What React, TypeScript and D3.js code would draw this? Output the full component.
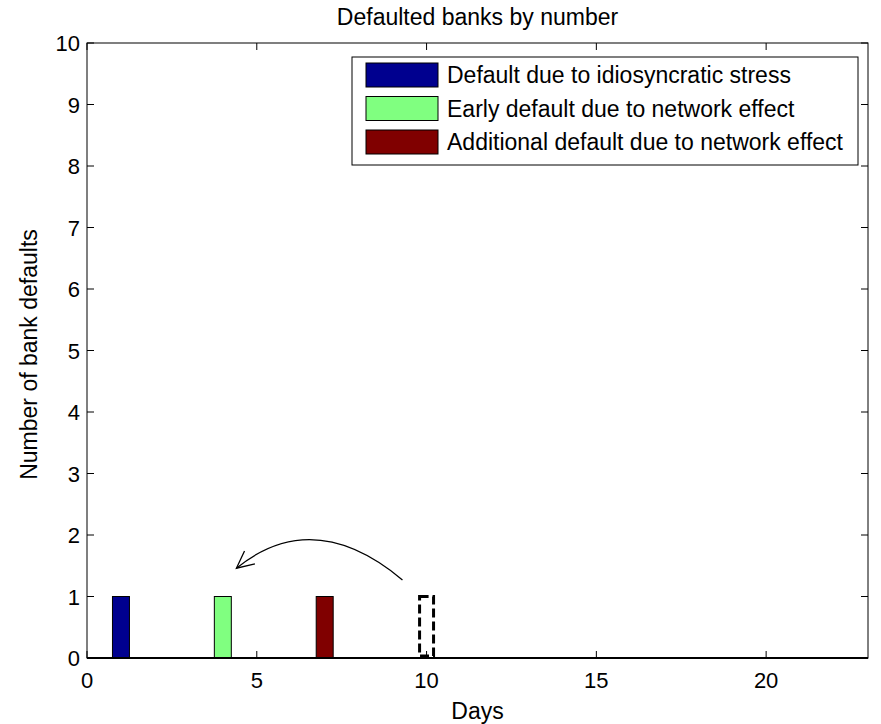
import React from "react";
import * as d3 from "d3";

// bars: day, count, fill
const days = [1, 4, 7];
const counts = [1, 1, 1];
const colors = ["#00008F", "#80FF80", "#800000"];
const labels = [
  "Default due to idiosyncratic stress",
  "Early default due to network effect",
  "Additional default due to network effect",
];
// the dashed "moved" bar
const ghostDay = 10;
const ghostCount = 1;

const xTicks = [0, 5, 10, 15, 20];
const yTicks = [0, 1, 2, 3, 4, 5, 6, 7, 8, 9, 10];

// arrow path in data units: start, peak, tip
const arrowStart = [9.29, 1.27];
const arrowPeak = [6.76, 1.92];
const arrowTip = [4.4, 1.46];

const W = 881;
const H = 724;
const M = { left: 87, right: 13, top: 43, bottom: 66 };
const FONT = "Liberation Sans, Arial, sans-serif";
const FS = 22;
const FL = 23;

export default function App() {
  const x = d3.scaleLinear().domain([0, 23]).range([M.left, W - M.right]);
  const y = d3.scaleLinear().domain([0, 10]).range([H - M.bottom, M.top]);
  const barW = x(0.5) - x(0);
  const x0 = M.left;
  const x1 = W - M.right;
  const y0 = H - M.bottom;
  const y1 = M.top;
  const tk = 7;

  // quadratic through peak
  const sx = x(arrowStart[0]), sy = y(arrowStart[1]);
  const ex = x(arrowTip[0]), ey = y(arrowTip[1]);
  const px = x(arrowPeak[0]), py = y(arrowPeak[1]);
  const cx = 2 * px - (sx + ex) / 2;
  const cy = 2 * py - (sy + ey) / 2;
  const path = d3.path();
  path.moveTo(sx, sy);
  path.quadraticCurveTo(cx, cy, ex, ey);
  // arrowhead along tangent at tip
  const ang = Math.atan2(ey - cy, ex - cx);
  const hl = 19;
  const spread = 0.45;
  const h1 = [ex - hl * Math.cos(ang - spread), ey - hl * Math.sin(ang - spread)];
  const h2 = [ex - hl * Math.cos(ang + spread), ey - hl * Math.sin(ang + spread)];

  const lg = { x: 352, y: 57, w: 506, h: 108, row: 33.5 };

  return (
    <svg width={W} height={H} style={{ position: "absolute", left: 0, top: 0, background: "#fff" }} fontFamily={FONT}>
      <rect x={0} y={0} width={W} height={H} fill="#fff" />

      {days.map((d, i) => (
        <rect
          key={i}
          x={x(d) - barW / 2}
          y={y(counts[i])}
          width={barW}
          height={y(0) - y(counts[i])}
          fill={colors[i]}
          stroke="#000"
          strokeWidth={1}
        />
      ))}
      <rect
        x={x(ghostDay) - barW / 2 + 1.5}
        y={y(ghostCount)}
        width={barW - 3}
        height={y(0) - y(ghostCount) - 2}
        fill="none"
        stroke="#000"
        strokeWidth={3}
        strokeDasharray="9 4"
      />

      {/* axes box */}
      <rect x={x0} y={y1} width={x1 - x0} height={y0 - y1} fill="none" stroke="#000" strokeWidth={1} />
      <line x1={x0} x2={x1} y1={y0} y2={y0} stroke="#000" strokeWidth={2} />

      {xTicks.map((t) => (
        <g key={"x" + t}>
          <line x1={x(t)} x2={x(t)} y1={y0} y2={y0 - tk} stroke="#000" />
          <line x1={x(t)} x2={x(t)} y1={y1} y2={y1 + tk} stroke="#000" />
          <text x={x(t)} y={y0 + 30} fontSize={FS} textAnchor="middle">
            {t}
          </text>
        </g>
      ))}
      {yTicks.map((t) => (
        <g key={"y" + t}>
          <line x1={x0} x2={x0 + tk} y1={y(t)} y2={y(t)} stroke="#000" />
          <line x1={x1} x2={x1 - tk} y1={y(t)} y2={y(t)} stroke="#000" />
          <text x={x0 - 7} y={y(t) + 8} fontSize={FS} textAnchor="end">
            {t}
          </text>
        </g>
      ))}

      {/* arrow */}
      <path d={path.toString()} fill="none" stroke="#000" strokeWidth={1.3} />
      <polyline
        points={`${h1[0]},${h1[1]} ${ex},${ey} ${h2[0]},${h2[1]}`}
        fill="none"
        stroke="#000"
        strokeWidth={1.3}
      />

      {/* legend */}
      <rect x={lg.x} y={lg.y} width={lg.w} height={lg.h} fill="#fff" stroke="#000" />
      {labels.map((l, i) => (
        <g key={l}>
          <rect x={lg.x + 14} y={lg.y + 6 + i * lg.row} width={72} height={24} fill={colors[i]} stroke="#000" />
          <text x={lg.x + 95} y={lg.y + 26 + i * lg.row} fontSize={FL}>
            {l}
          </text>
        </g>
      ))}

      <text x={(x0 + x1) / 2} y={25} fontSize={FL} textAnchor="middle">
        Defaulted banks by number
      </text>
      <text x={(x0 + x1) / 2} y={719} fontSize={FL} textAnchor="middle">
        Days
      </text>
      <text transform={`translate(37,${(y0 + y1) / 2 + 4}) rotate(-90)`} fontSize={FL} textAnchor="middle">
        Number of bank defaults
      </text>
    </svg>
  );
}
